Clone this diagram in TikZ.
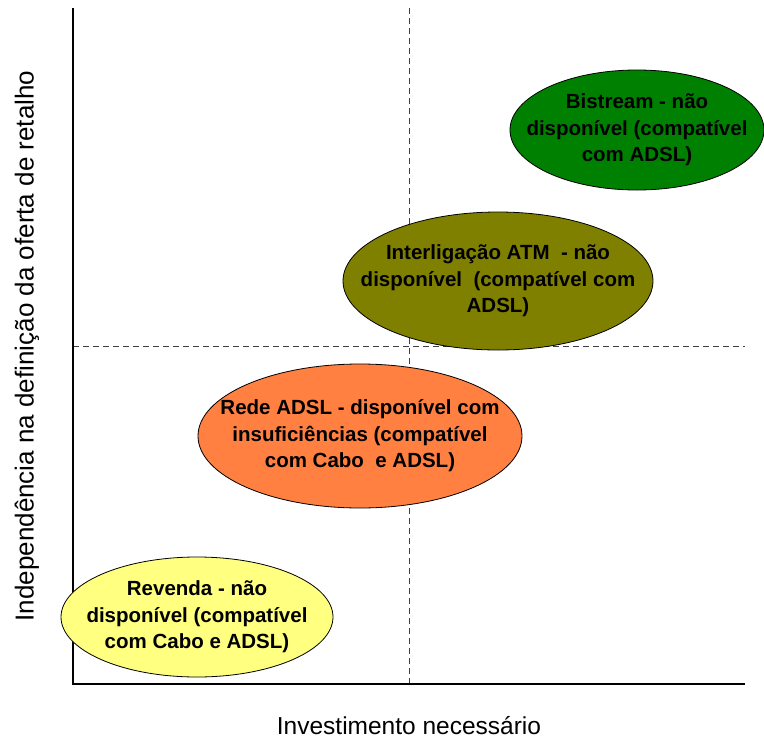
\documentclass[tikz,border=0pt]{standalone}
\usepackage{fontspec}
\setmainfont{Liberation Sans}
\definecolor{cgreen}{RGB}{0,128,0}
\definecolor{colive}{RGB}{128,128,0}
\definecolor{corange}{RGB}{255,128,64}
\definecolor{cyellow}{RGB}{255,255,128}
\tikzset{
  blobline/.style={draw=black, line width=0.8pt},
  blobtext/.style={inner sep=0pt, align=center,
    font=\fontsize{20.5}{26.5}\selectfont\bfseries},
  axisline/.style={line width=1.6pt, black},
  guide/.style={line width=0.8pt, black!75, dash pattern=on 6pt off 4pt},
  xlbl/.style={font=\fontsize{24.5}{27}\selectfont, inner sep=0pt},
  ylbl/.style={font=\fontsize{26}{27}\selectfont, inner sep=0pt, rotate=90}
}
\begin{document}
\begin{tikzpicture}[x=1pt,y=-1pt]
\useasboundingbox (0,0) rectangle (764,742);
\coordinate (o) at (73,684);
\coordinate (ytop) at (73,8);
\coordinate (xend) at (745,684);
\coordinate (vtop) at (409,8);
\coordinate (vbot) at (409,684);
\coordinate (hl) at (73,346);
\coordinate (hr) at (745,346);
\draw[guide] (vtop) -- (vbot);
\draw[guide] (hl) -- (hr);
\draw[axisline] (ytop) -- (o) -- (xend);
\coordinate (cbis) at (637,130);
\coordinate (catm) at (498,281);
\coordinate (crede) at (360,436);
\coordinate (crev) at (197,617);
\path[blobline, fill=cgreen] (cbis) ellipse [x radius=127, y radius=60];
\path[blobline, fill=colive] (catm) ellipse [x radius=155, y radius=69];
\path[blobline, fill=corange] (crede) ellipse [x radius=162, y radius=72];
\path[blobline, fill=cyellow] (crev) ellipse [x radius=136, y radius=60];
\node[blobtext] (bis) at (cbis) {Bistream - não\\disponível (compatível\\com ADSL)};
\node[blobtext] (atm) at (catm) {Interligação ATM\ \ - não\\disponível\ \ (compatível com\\ADSL)};
\node[blobtext] (rede) at (crede) {Rede ADSL - disponível com\\insuficiências (compatível\\com Cabo\ \ e ADSL)};
\node[blobtext] (rev) at (crev) {Revenda - não\\disponível (compatível\\com Cabo e ADSL)};
\node[xlbl] (xl) at (409,726) {Investimento necessário};
\node[ylbl] (yl) at (27,346) {Independência na definição da oferta de retalho};
\end{tikzpicture}
\end{document}
